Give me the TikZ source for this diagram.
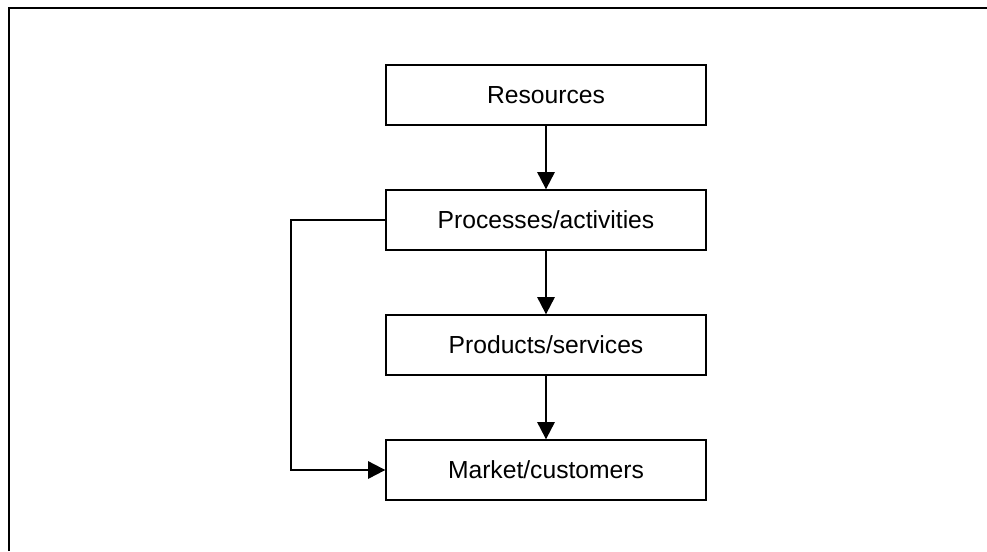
\documentclass[tikz,border=0pt]{standalone}
\usepackage{fontspec}
\setmainfont{Liberation Sans}
\usetikzlibrary{arrows.meta}
\begin{document}
\begin{tikzpicture}[x=0.75pt,y=-0.75pt,
  stage/.style={draw,line width=1pt,minimum width=240pt,minimum height=45pt,
    inner sep=0pt,font=\fontsize{18.5}{22}\selectfont},
  flow/.style={line width=1.6pt,-{Triangle[width=13pt,length=13pt]}}]
\useasboundingbox (0,0) rectangle (987,551);
% frame
\draw[line width=1.5pt] (9,551) -- (9,8) -- (987,8);
% stages
\node[stage] (res) at (546,95) {Resources};
\node[stage] (proc) at (546,220) {Processes/activities};
\node[stage] (prod) at (546,345) {Products/services};
\node[stage] (mkt) at (546,470) {Market/customers};
% arrows
\draw[flow] (res) -- (proc);
\draw[flow] (proc) -- (prod);
\draw[flow] (prod) -- (mkt);
\draw[flow] (proc.west) -- ++(-94,0) |- (mkt.west);
\end{tikzpicture}
\end{document}
